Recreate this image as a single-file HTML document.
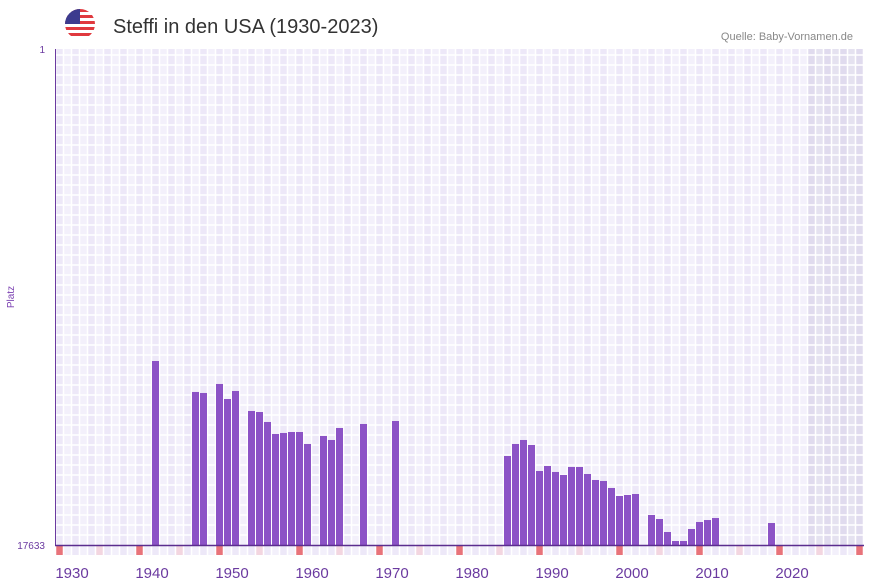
<!DOCTYPE html>
<html><head><meta charset="utf-8">
<style>
body{margin:0;background:#fff;font-family:"Liberation Sans",sans-serif;}
svg{display:block}
</style></head>
<body>
<svg id="chart" width="873" height="587" xmlns="http://www.w3.org/2000/svg">
  <g>
    <clipPath id="fc"><circle cx="80" cy="24" r="15"/></clipPath>
    <g clip-path="url(#fc)">
      <rect x="65" y="9" width="30" height="30" fill="#fff"/>
      <rect x="65" y="9" width="30" height="3" fill="#e0393e"/>
      <rect x="65" y="15" width="30" height="3" fill="#e0393e"/>
      <rect x="65" y="21" width="30" height="3" fill="#e0393e"/>
      <rect x="65" y="27" width="30" height="3" fill="#e0393e"/>
      <rect x="65" y="33" width="30" height="3" fill="#e0393e"/>
      <rect x="65" y="9" width="15" height="15" fill="#3c3b8e"/>
    </g>
  </g>
  <text x="113" y="33" font-size="20" fill="#333">Steffi in den USA (1930-2023)</text>
  <text x="853" y="40" font-size="11" fill="#888" text-anchor="end">Quelle: Baby-Vornamen.de</text>
  <text x="14" y="297" font-size="10" fill="#7a3fb0" text-anchor="middle" transform="rotate(-90 14 297)">Platz</text>
  <g id="grid"></g>
  <g id="bars"></g>
  <g id="axes"></g>
</svg>
<script>
const years=[1940,1945,1946,1948,1949,1950,1952,1953,1954,1955,1956,1957,1958,1959,1961,1962,1963,1966,1970,1984,1985,1986,1987,1988,1989,1990,1991,1992,1993,1994,1995,1996,1997,1998,1999,2000,2002,2003,2004,2005,2006,2007,2008,2009,2010,2017];
const ranks=[11092,12193,12229,11909,12443,12158,12869,12905,13260,13687,13651,13616,13616,14042,13757,13900,13473,13331,13225,14468,14042,13900,14077,15002,14824,15037,15144,14860,14860,15109,15322,15357,15606,15891,15855,15820,16566,16709,17171,17491,17491,17064,16815,16745,16674,16851];
const xTicks=[1930,1940,1950,1960,1970,1980,1990,2000,2010,2020];
const yTicks=[1,17633];
const NS="http://www.w3.org/2000/svg";
const X0=56,Y0=49,Y1=545,Y0R=1,Y1R=17633,FIRST=1928,LAST=2028;
const xs=y=>X0+(y-FIRST)*8;
const ys=r=>Y0+(r-Y0R)/(Y1R-Y0R)*(Y1-Y0);
function mk(t,a,p){const e=document.createElementNS(NS,t);for(const k in a)e.setAttribute(k,a[k]);p.appendChild(e);return e;}
const grid=document.getElementById('grid'),bars=document.getElementById('bars'),axes=document.getElementById('axes');
for(let y=FIRST;y<=LAST;y++){
  const c=mk('rect',{x:xs(y),y:Y0,width:8,height:Y1-Y0+10,fill:(y%2?'#f3f0fb':'#ede8f8')},grid);
  
  
  let f=null;
  if(y%10==8)f='#e8737a';else if(y%10==3)f='#f3d6e0';
  if(f){const m=mk('rect',{x:xs(y),y:Y1+1,width:7,height:9,fill:f},grid);
    
    }
}
const sh=mk('rect',{x:xs(2022),y:Y0,width:xs(LAST+1)-xs(2022),height:Y1-Y0,fill:'rgba(140,130,170,0.13)'},grid);


for(let y=FIRST;y<=LAST+1;y++){mk('line',{x1:xs(y)-0.5,x2:xs(y)-0.5,y1:Y0,y2:Y1+10,stroke:'#fff','stroke-width':1.5},grid);}
for(let py=Y1-10;py>Y0;py-=10){mk('line',{x1:X0,x2:xs(LAST+1),y1:py,y2:py,stroke:'#fff','stroke-width':1.5},grid);}
years.forEach((yr,i)=>{
  const t=ys(ranks[i]);
  const b=mk('rect',{x:xs(yr),y:t,width:7,height:Y1-t,fill:'#8c53c6'},bars);
  
  
});
mk('line',{x1:55.5,x2:55.5,y1:Y0,y2:Y1,stroke:'#6b3aa0','stroke-width':1},axes);
mk('line',{x1:X0-1,x2:xs(LAST+1),y1:Y1+0.5,y2:Y1+0.5,stroke:'#5b2d8e','stroke-width':1.5},axes);
xTicks.forEach(v=>{
  const t=mk('text',{x:xs(v),y:578,'font-size':15,fill:'#6b3aa0','text-anchor':'middle'},axes);
  t.textContent=v;
  
  
});
yTicks.forEach(v=>{
  const t=mk('text',{x:45,y:ys(v)+4,'font-size':10,fill:'#6b3aa0','text-anchor':'end'},axes);
  t.textContent=v;
  
  
});
</script>
</body></html>
